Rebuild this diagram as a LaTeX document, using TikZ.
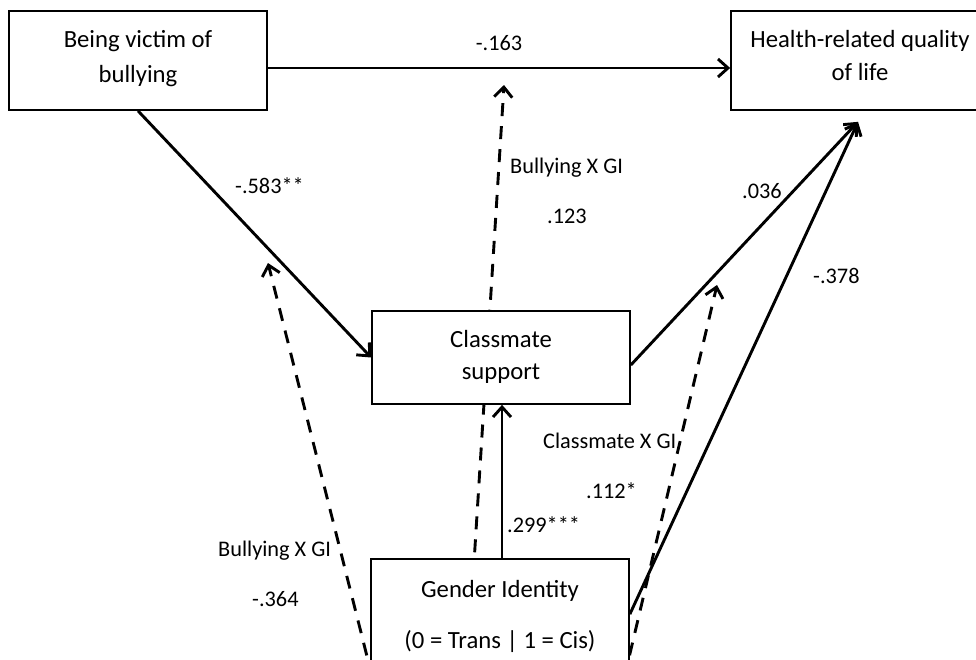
\documentclass[tikz,border=0pt]{standalone}
\usepackage{fontspec}
\setmainfont{Carlito}
\usetikzlibrary{arrows.meta,calc}
\begin{document}
\begin{tikzpicture}[x=1pt,y=-1pt,
  box/.style={draw, line width=1.7pt, fill=white, minimum width=258pt, inner sep=0pt},
  boxtext/.style={font=\fontsize{24.7}{30}\selectfont, anchor=base, inner sep=0pt},
  lbl/.style={font=\fontsize{22.3}{27}\selectfont, anchor=base west, inner sep=0pt},
  effect/.style={line width=2.9pt, -{Straight Barb[length=10pt,width=18pt]}},
  modeffect/.style={effect, dash pattern=on 13pt off 10pt},
]
\useasboundingbox (0,0) rectangle (976,659);
\fill[white] (0,0) rectangle (976,659);
\clip (0,0) rectangle (976,659);

% moderation paths (start hidden behind the Gender Identity box)
\coordinate (m1s) at (378,700);
\coordinate (m1e) at (268,263);
\coordinate (m2s) at (466,690);
\coordinate (m2e) at (504,85);
\coordinate (m3s) at (619,700);
\coordinate (m3e) at (717,285);
\draw[modeffect] (m1s) -- (m1e);
\draw[modeffect] (m2s) -- (m2e);
\draw[modeffect] (m3s) -- (m3e);

% variables
\node[box, minimum height=99pt] (bully) at (138,60.5) {};
\node[box, minimum height=99pt] (hrq) at (860,60.5) {};
\node[box, minimum height=93pt] (cls) at (501,357.5) {};
\node[box, minimum height=141pt] (gen) at (500,629.5) {};

\node[boxtext] (bullyA) at (138,47) {Being victim of};
\node[boxtext] (bullyB) at (138,82) {bullying};
\node[boxtext] (hrqA) at (860,47) {Health-related quality};
\node[boxtext] (hrqB) at (860,80) {of life};
\node[boxtext] (clsA) at (501,347) {Classmate};
\node[boxtext] (clsB) at (501,379) {support};
\node[boxtext] (genA) at (500,597) {Gender Identity};
\node[boxtext] (genB) at (500,648) {(0 = Trans | 1 = Cis)};

% direct effects
\coordinate (hrqin) at ($(hrq.south)+(-2,11)$);
\draw[effect] ($(bully.east)+(0,7.5)$) -- ($(hrq.west)+(0,7.5)$);
\draw[effect] (bully.south) -- (cls.west);
\draw[effect] ($(cls.east)+(0,7.5)$) -- (hrqin);
\draw[effect] ($(gen.north east)+(0,56)$) -- (hrqin);
\draw[effect] ($(gen.north)+(2,0)$) -- ($(cls.south)+(1,0)$);

% coefficients
\node[lbl, anchor=base] (c1) at (499,50) {-.163};
\node[lbl] (c2) at (235,193) {-.583**};
\node[lbl] (c3) at (510,173) {Bullying X GI};
\node[lbl] (c4) at (547,223) {.123};
\node[lbl] (c5) at (742,198) {.036};
\node[lbl] (c6) at (813,283) {-.378};
\node[lbl] (c7) at (543,448) {Classmate X GI};
\node[lbl] (c8) at (586,498) {.112*};
\node[lbl] (c9) at (507,532) {.299***};
\node[lbl] (c10) at (218,556) {Bullying X GI};
\node[lbl] (c11) at (252,606) {-.364};
\end{tikzpicture}
\end{document}
